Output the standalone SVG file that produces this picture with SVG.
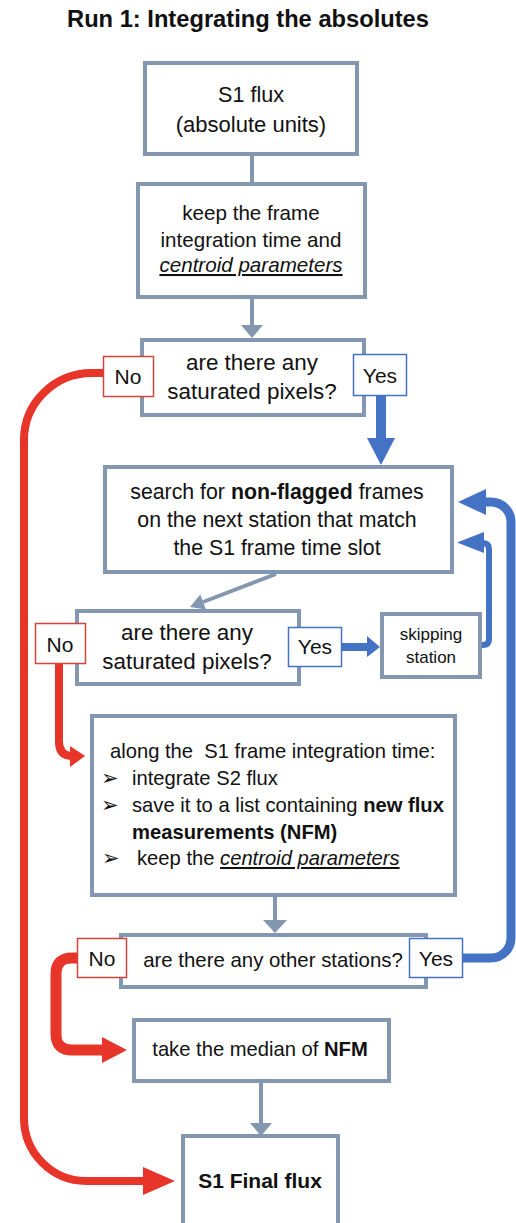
<svg xmlns="http://www.w3.org/2000/svg" width="516" height="1223" viewBox="0 0 516 1223">
<style>
text{font-family:"Liberation Sans",Arial,sans-serif;fill:#111;}
.box{fill:#fff;stroke:#8497B0;stroke-width:4;}
.no{fill:#fff;stroke:#D0463E;stroke-width:1.5;}
.yes{fill:#fff;stroke:#4472C4;stroke-width:1.5;}
.c{text-anchor:middle;}
.grey{fill:none;stroke:#8497B0;stroke-width:4;}
.red{fill:none;stroke:#E8352A;}
.blue{fill:none;stroke:#4472C4;}
.gh{fill:#8497B0;}
.rh{fill:#E8352A;}
.bh{fill:#4472C4;}
.lbl{font-size:21px;}
.b{font-weight:bold;}
.bul{font-family:"DejaVu Sans",sans-serif;font-size:21px;}
</style>
<rect width="516" height="1223" fill="#fff"/>
<text id="title" x="248" y="27" class="c b" style="font-size:23.7px">Run 1: Integrating the absolutes</text>

<g id="connectors">
  <line class="grey" x1="252" y1="155" x2="252" y2="183"/>
  <line class="grey" x1="252" y1="298" x2="252" y2="326"/>
  <polygon class="gh" points="241,325 263,325 252,338"/>
  <line class="blue" style="stroke-width:10" x1="381" y1="396" x2="381" y2="440"/>
  <polygon class="bh" points="367,438 395,438 381,465"/>
  <path class="red" style="stroke-width:8" d="M104,373 H92 A68,67 0 0 0 24,440 V1118 A62,63 0 0 0 86,1181 H145"/>
  <polygon class="rh" points="143,1167 175,1181 143,1195"/>
  <line class="grey" x1="276" y1="574" x2="203" y2="602"/>
  <polygon class="gh" points="190,607 200.3,594.6 205.9,609.6"/>
  <line class="blue" style="stroke-width:8" x1="342" y1="647" x2="369" y2="647"/>
  <polygon class="bh" points="367,636 380,647 367,657"/>
  <path class="blue" style="stroke-width:6" d="M481,645 H483 Q489,645 489,639 V549 Q489,543 482,543"/>
  <polygon class="bh" points="484,532 457,542.5 484,553"/>
  <path class="blue" style="stroke-width:9" d="M462,958 H491 A20,20 0 0 0 511,938 V522 A20,20 0 0 0 491,502 H484"/>
  <polygon class="bh" points="486,489 458,502 486,515"/>
  <path class="red" style="stroke-width:8" d="M59,663 V742 Q59,756 73,756 H72"/>
  <polygon class="rh" points="70,746 85,756 70,767"/>
  <line class="grey" x1="275" y1="896" x2="275" y2="921"/>
  <polygon class="gh" points="263,920 287,920 275,933"/>
  <path class="red" style="stroke-width:11" d="M78,958 H72 Q56,958 56,974 V1034 Q56,1050 72,1050 H104"/>
  <polygon class="rh" points="102,1037 127,1050 102,1063"/>
  <line class="grey" x1="261" y1="1082" x2="261" y2="1124"/>
  <polygon class="gh" points="250,1123 272,1123 261,1136"/>
</g>

<g id="n1">
  <rect class="box" x="145" y="63" width="212" height="91"/>
  <text class="c" x="251" y="102" style="font-size:21.6px">S1 flux</text>
  <text class="c" x="251" y="132" style="font-size:22px">(absolute units)</text>
</g>

<g id="n2">
  <rect class="box" x="138" y="184" width="227" height="113"/>
  <text class="c" x="251" y="220" style="font-size:20.6px">keep the frame</text>
  <text class="c" x="251" y="247" style="font-size:20.6px">integration time and</text>
  <text class="c" x="251" y="272" style="font-size:20.6px;font-style:italic;text-decoration:underline">centroid parameters</text>
</g>

<g id="n3">
  <rect class="box" x="142" y="340" width="222" height="75"/>
  <text class="c" x="252" y="370" style="font-size:22.4px">are there any</text>
  <text class="c" x="252" y="399" style="font-size:22.4px">saturated pixels?</text>
  <rect class="no" x="103.5" y="356.5" width="50" height="40"/>
  <text class="c lbl" x="128" y="384">No</text>
  <rect class="yes" x="353.5" y="354.5" width="53" height="41"/>
  <text class="c lbl" x="380" y="383">Yes</text>
</g>

<g id="n4">
  <rect class="box" x="105" y="467" width="347" height="105"/>
  <text class="c" x="277" y="499" style="font-size:21.3px">search for <tspan class="b">non-flagged</tspan> frames</text>
  <text class="c" x="277" y="527" style="font-size:21.3px">on the next station that match</text>
  <text class="c" x="277" y="555" style="font-size:21.3px">the S1 frame time slot</text>
</g>

<g id="n5">
  <rect class="box" x="77" y="611" width="222" height="73"/>
  <text class="c" x="187" y="640" style="font-size:22.4px">are there any</text>
  <text class="c" x="187" y="669" style="font-size:22.4px">saturated pixels?</text>
  <rect class="no" x="35.5" y="623.5" width="50" height="40"/>
  <text class="c lbl" x="60" y="652">No</text>
  <rect class="yes" x="288.5" y="627.5" width="53" height="39"/>
  <text class="c lbl" x="315" y="654">Yes</text>
</g>

<g id="skip">
  <rect class="box" x="382" y="614" width="98" height="63"/>
  <text class="c" x="431" y="640" style="font-size:17px">skipping</text>
  <text class="c" x="431" y="663" style="font-size:17px">station</text>
</g>

<g id="n6">
  <rect class="box" x="92" y="716" width="363" height="179"/>
  <text x="110" y="758" style="font-size:20.2px" xml:space="preserve">along the  S1 frame integration time:</text>
  <text class="bul" x="101" y="785">➢</text>
  <text x="132" y="785" style="font-size:20.2px">integrate S2 flux</text>
  <text class="bul" x="101" y="812">➢</text>
  <text x="132" y="812" style="font-size:20.2px">save it to a list containing <tspan class="b">new flux</tspan></text>
  <text x="132" y="839" style="font-size:20.2px" class="b">measurements (NFM)</text>
  <text class="bul" x="102" y="865">➢</text>
  <text x="137" y="865" style="font-size:20.2px">keep the <tspan style="font-style:italic;text-decoration:underline">centroid parameters</tspan></text>
</g>

<g id="n7">
  <rect class="box" x="121" y="935" width="305" height="52"/>
  <text class="c" x="273" y="967" style="font-size:20.4px">are there any other stations?</text>
  <rect class="no" x="77.5" y="938.5" width="49" height="39"/>
  <text class="c lbl" x="102" y="966">No</text>
  <rect class="yes" x="409.5" y="938.5" width="53" height="39"/>
  <text class="c lbl" x="436" y="966">Yes</text>
</g>

<g id="n8">
  <rect class="box" x="134" y="1020" width="255" height="61"/>
  <text class="c" x="260" y="1056" style="font-size:20.2px">take the median of <tspan class="b">NFM</tspan></text>
</g>

<g id="n9">
  <rect class="box" x="183" y="1136" width="155" height="100"/>
  <text class="c b" x="260" y="1188" style="font-size:21px">S1 Final flux</text>
</g>
</svg>
